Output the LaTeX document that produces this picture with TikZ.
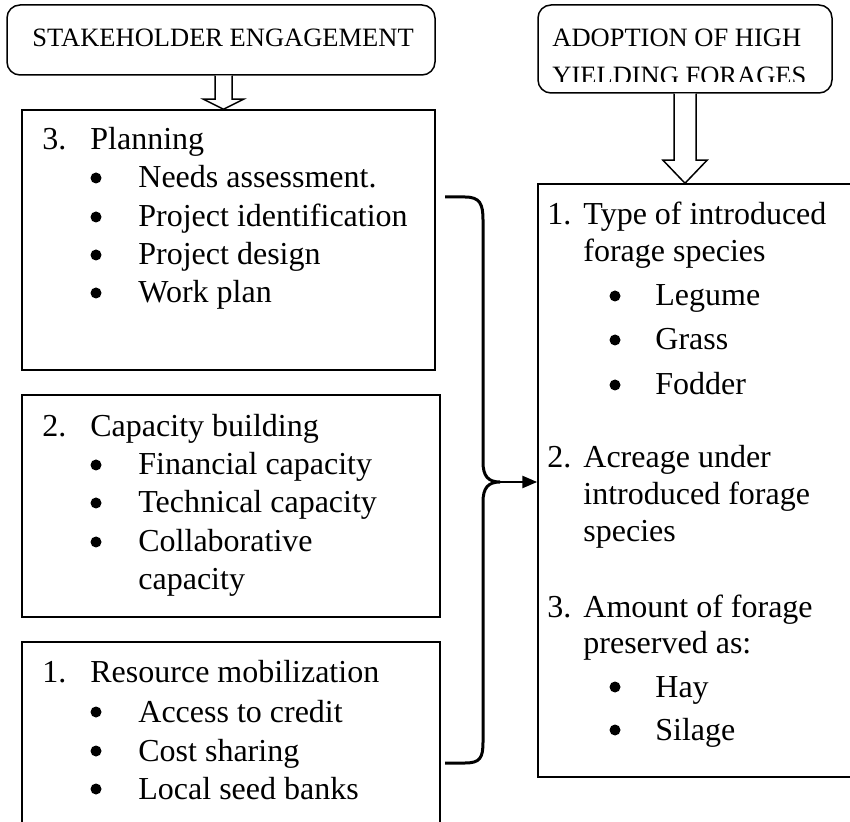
\documentclass[tikz,border=0pt]{standalone}
\usepackage{fontspec}
\setmainfont{Liberation Serif}
\usetikzlibrary{fit,calc,arrows.meta}

\begin{document}
\begin{tikzpicture}[x=0.5pt,y=-0.5pt,
  panel/.style={draw,line width=0.75pt,inner sep=0pt},
  headbox/.style={panel,rounded corners=6.5pt},
  txt/.style={anchor=base west,inner sep=0pt,font=\fontsize{16}{19}\selectfont},
  head/.style={anchor=base west,inner sep=0pt,font=\fontsize{13.25}{16}\selectfont},
  hollow/.style={draw,line width=0.75pt,fill=white,line join=miter},
  brace/.style={draw,line width=1.5pt}]
\useasboundingbox (0,0) rectangle (850,822);
\clip (0,0) rectangle (850,822);

% boxes
\node[headbox,fit={(7,5) (435,75)}] (stake) {};
\node[headbox,fit={(538,5) (832,93)}] (adopt) {};
\node[panel,fit={(22,110) (435,370)}] (plan) {};
\node[panel,fit={(22,395) (440,617)}] (capac) {};
\node[panel,fit={(22,642) (440,840)}] (resmob) {};
\node[panel,fit={(538,184) (860,777)}] (result) {};

% hollow arrows
\coordinate (t1) at ($(stake.south |- plan.north)+(2.5,0)$);
\coordinate (s1) at ($(stake.south)+(2.5,0)$);
\draw[hollow] ($(s1)+(-8.5,0)$) -- ($(t1)+(-8.5,-10)$) -- ($(t1)+(-20,-10)$)
  -- (t1) -- ($(t1)+(20,-10)$) -- ($(t1)+(8.5,-10)$) -- ($(s1)+(8.5,0)$);
\coordinate (t2) at (adopt.south |- result.north);
\draw[hollow] ($(adopt.south)+(-11,0)$) -- ($(t2)+(-11,-23)$) -- ($(t2)+(-22,-23)$)
  -- (t2) -- ($(t2)+(22,-23)$) -- ($(t2)+(11,-23)$) -- ($(adopt.south)+(11,0)$);

% headings
\node[head] (stake1) at (32,47) {STAKEHOLDER ENGAGEMENT};
\node[head] (adopt1) at (552,47) {ADOPTION OF HIGH};
\begin{scope}
\clip (538,0) rectangle (832,81.5);
\node[head] (adopt2) at (552,85) {YIELDING FORAGES};
\end{scope}

% planning
\node[txt] (plan0) at (42,150) {3.};
\node[txt] (plan1) at (90,150) {Planning};
\node[txt] (plan2) at (138,188) {Needs assessment.};
\node[txt] (plan3) at (138,227) {Project identification};
\node[txt] (plan4) at (138,265) {Project design};
\node[txt] (plan5) at (138,303) {Work plan};

% capacity building
\node[txt] (capac0) at (42,437) {2.};
\node[txt] (capac1) at (90,437) {Capacity building};
\node[txt] (capac2) at (138,475) {Financial capacity};
\node[txt] (capac3) at (138,513) {Technical capacity};
\node[txt] (capac4) at (138,552) {Collaborative};
\node[txt] (capac5) at (138,589) {capacity};

% resource mobilization
\node[txt] (res0) at (42,682) {1.};
\node[txt] (res1) at (90,682) {Resource mobilization};
\node[txt] (res2) at (138,722) {Access to credit};
\node[txt] (res3) at (138,761) {Cost sharing};
\node[txt] (res4) at (138,799) {Local seed banks};

% adoption indicators
\node[txt] (out0) at (547,225) {1.};
\node[txt] (out1) at (583,225) {Type of introduced};
\node[txt] (out2) at (583,262) {forage species};
\node[txt] (out3) at (655,306) {Legume};
\node[txt] (out4) at (655,350) {Grass};
\node[txt] (out5) at (655,395) {Fodder};
\node[txt] (out6) at (547,468) {2.};
\node[txt] (out7) at (583,468) {Acreage under};
\node[txt] (out8) at (583,505) {introduced forage};
\node[txt] (out9) at (583,542) {species};
\node[txt] (out10) at (547,617) {3.};
\node[txt] (out11) at (583,617) {Amount of forage};
\node[txt] (out12) at (583,653) {preserved as:};
\node[txt] (out13) at (655,697) {Hay};
\node[txt] (out14) at (655,740) {Silage};

% bullets
\foreach \n in {plan2,plan3,plan4,plan5,capac2,capac3,capac4,res2,res3,res4}
  \fill ($(\n.base west)+(-42,-10)$) circle (5.5);
\foreach \n in {out3,out4,out5,out13,out14}
  \fill ($(\n.base west)+(-40,-10)$) circle (5.5);

% brace into the indicators
\coordinate (bt) at (445,197);
\coordinate (bb) at (445,763);
\coordinate (bc) at (500,482);
\draw[brace] (bt) -- (465,197) .. controls (480,197) and (483,204) .. (483,220)
  -- (483,462) .. controls (483,476) and (488,482) .. (bc)
  .. controls (488,482) and (483,488) .. (483,502)
  -- (483,742) .. controls (483,758) and (480,763) .. (465,763) -- (bb);
\draw[line width=1.25pt,-{Triangle[length=7.5pt,width=6pt]}] (bc) -- (bc -| result.west);

\end{tikzpicture}
\end{document}
